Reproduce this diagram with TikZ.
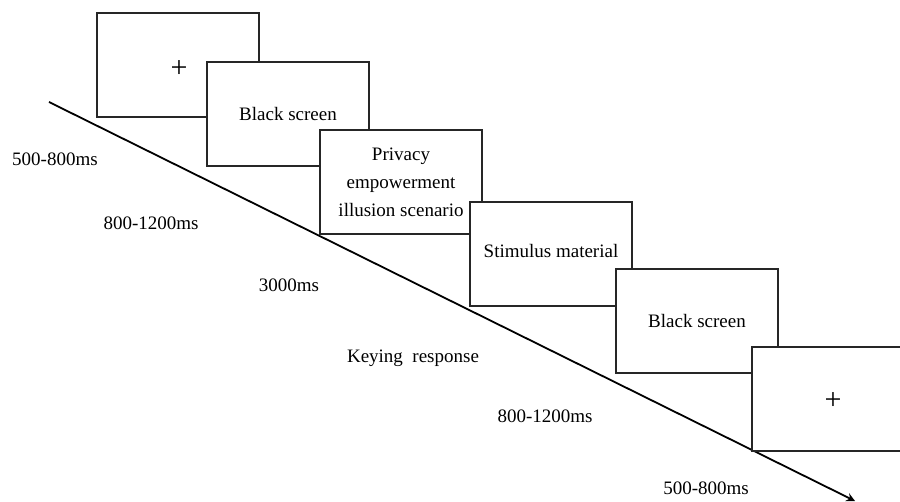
\documentclass[tikz,border=0pt]{standalone}
\usepackage{fontspec}
\setmainfont{Liberation Serif}
\begin{document}
\begin{tikzpicture}[>=stealth, x=0.5pt, y=-0.5pt,
  screen/.style={draw=black!85, line width=0.9pt, fill=white, minimum width=81pt, minimum height=52pt, inner sep=0pt, align=center},
  cross/.style={font=\fontsize{15}{15}\selectfont},
  lbl/.style={inner sep=0pt}]
\fontsize{9.5}{14}\selectfont
\useasboundingbox (0,0) rectangle (900,502);
\clip (0,0) rectangle (900,502);

\coordinate (t0) at (49,102);
\coordinate (t1) at (855,501);
\draw[line width=0.9pt, ->](t0)--(t1);

\node[screen] (fix1) at (178,65){};
\node[cross] (plus1) at (179,69){+};
\node[screen] (blank1) at (288,114){\raisebox{-2pt}{Black screen}};
\node[screen] (scene) at (401,182){Privacy\\empowerment\\illusion scenario};
\node[screen] (stim) at (551,254){\raisebox{3pt}{Stimulus material}};
\node[screen] (blank2) at (697,321){\raisebox{-2pt}{Black screen}};
\node[screen] (fix2) at (833,399){};
\node[cross] (plus2) at (833,401){+};

\node[lbl] (d1) at (55,159){500-800ms};
\node[lbl] (d2) at (151,223){800-1200ms};
\node[lbl] (d3) at (289,285){3000ms};
\node[lbl] (d4) at (413,358){Keying\ \ response};
\node[lbl] (d5) at (545,416){800-1200ms};
\node[lbl] (d6) at (706,488){500-800ms};
\end{tikzpicture}
\end{document}
